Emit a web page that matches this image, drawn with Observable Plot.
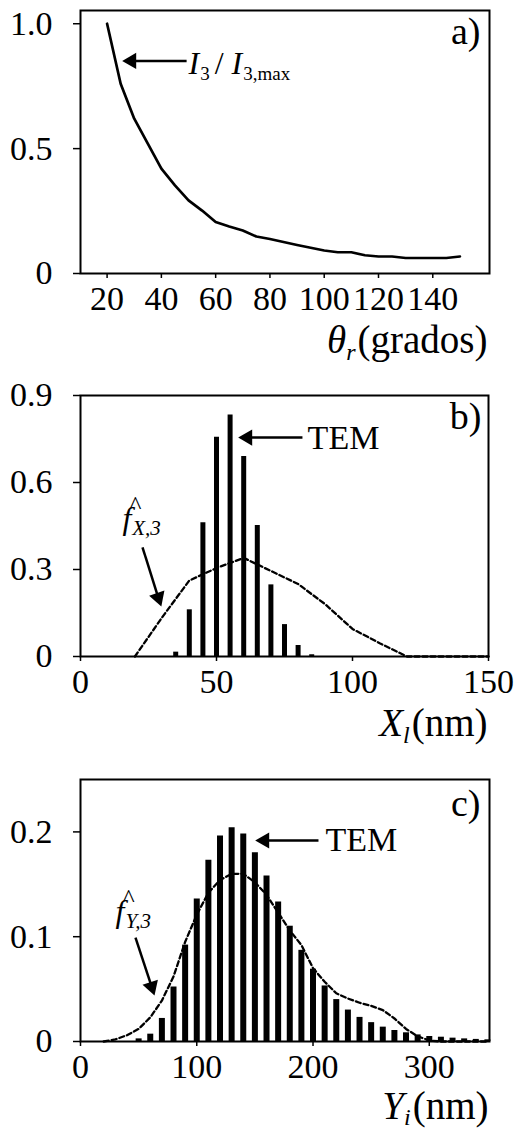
<!DOCTYPE html>
<html>
<head>
<meta charset="utf-8">
<script src="https://cdn.jsdelivr.net/npm/d3@7"></script>
<script src="https://cdn.jsdelivr.net/npm/@observablehq/plot@0.6"></script>
<style>
  html, body { margin: 0; padding: 0; background: white; overflow: hidden; }
  #chart svg { display: block; }
  #chart svg text, #chart svg tspan { font-family: "Liberation Serif", "Times New Roman", serif !important; }
</style>
</head>
<body>
<div id="chart"></div>
<script>
// ---------- Panel a data ----------
const thetaA = [20,25,30,35,40,45,50,55,60,65,70,75,80,85,90,95,100,105,110,115,120,125,130,135,140,145,150];
const intensityA = [1.0,0.76,0.62,0.52,0.42,0.353,0.293,0.252,0.206,0.188,0.172,0.148,0.138,0.126,0.114,0.103,0.092,0.085,0.085,0.073,0.068,0.068,0.062,0.062,0.062,0.062,0.068];
const xTicksA = [20,40,60,80,100,120,140];
const yTicksA = [0,0.5,1.0];

// ---------- Panel b data ----------
const binsX = [35,40,45,50,55,60,65,70,75,80,85];
const temX = [0.015,0.161,0.461,0.756,0.833,0.690,0.452,0.247,0.110,0.038,0.006];
const kdeXx = [20,30,40,50,60,70,80,90,100,110,120,130,140,150];
const kdeXy = [0,0.135,0.262,0.305,0.340,0.295,0.250,0.180,0.095,0.046,0,0,0,0];
const xTicksB = [0,50,100,150];
const yTicksB = [0,0.3,0.6,0.9];

// ---------- Panel c data ----------
const binsY = [50,60,70,80,90,100,110,120,130,140,150,160,170,180,190,200,210,220,230,240,250,260,270,280,290,300,310,320,330,340,350];
const temY = [0.0025,0.007,0.022,0.052,0.092,0.136,0.173,0.196,0.204,0.198,0.180,0.158,0.133,0.110,0.087,0.069,0.053,0.040,0.030,0.023,0.018,0.0137,0.0105,0.0083,0.0063,0.0048,0.0041,0.0032,0.0025,0.002,0.0016];
const kdeYx = [20,30,40,50,60,70,80,90,100,110,120,130,140,150,160,170,180,190,200,210,220,230,240,250,260,270,280,290,300,310,320,330,340,350];
const kdeYy = [0,0.002,0.006,0.012,0.023,0.039,0.062,0.095,0.121,0.142,0.154,0.160,0.160,0.152,0.140,0.123,0.106,0.092,0.070,0.057,0.046,0.041,0.037,0.034,0.030,0.022,0.012,0.005,0.001,0,0,0,0,0];
const xTicksC = [0,100,200,300];
const yTicksC = [0,0.1,0.2];

// ---------- annotation anchors (data coordinates) ----------
const annA = {tail: [49.3, 0.851], head: [29.0, 0.851], text: [50.0, 0.80]};
const annB = {temTail: [81.6, 0.755], temHead: [61.4, 0.755], temText: [83.5, 0.717],
              fText: [15.4, 0.441], fTail: [22.8, 0.376], fHead: [28.6, 0.203]};
const annC = {temTail: [204.7, 0.1918], temHead: [158.3, 0.1918], temText: [210.7, 0.182],
              fText: [30.1, 0.1145], fTail: [47.3, 0.0992], fHead: [61.2, 0.0524]};

const SERIF = "Liberation Serif";
const fmt1 = d => d === 0 ? "0" : d.toFixed(1);

function axes(xt, yt, yfmt) {
  return [
    Plot.frame({stroke: "black", strokeWidth: 2}),
    Plot.axisX(xt, {tickSize: 5, tickPadding: 7, fontSize: 34, fontFamily: SERIF, strokeWidth: 1.5, label: null, tickFormat: d => String(d)}),
    Plot.axisY(yt, {tickSize: 7, tickPadding: 21, fontSize: 34, fontFamily: SERIF, strokeWidth: 1.5, label: null, tickFormat: yfmt})
  ];
}
function arrow(tail, head, rot) {
  return [
    Plot.link([0], {x1: () => tail[0], y1: () => tail[1], x2: () => head[0], y2: () => head[1], stroke: "black", strokeWidth: 2.5}),
    Plot.dot([0], {x: () => head[0], y: () => head[1], symbol: "triangle", r: 6, fill: "black", stroke: "none", rotate: rot})
  ];
}
function label(txt, anchor, dx, dy, size, align) {
  return Plot.text([txt], {text: d => d, frameAnchor: anchor, dx, dy, textAnchor: align, lineAnchor: "bottom", fontSize: size, fontFamily: SERIF, fill: "black"});
}
function textAt(txt, pos, size, opts = {}) {
  return Plot.text([txt], {text: d => d, x: () => pos[0], y: () => pos[1], textAnchor: "start", lineAnchor: "bottom", fontSize: size, fontFamily: SERIF, fill: "black", ...opts});
}
function hat(pos) {
  return Plot.text(["^"], {text: d => d, x: () => pos[0], y: () => pos[1], dx: 13, dy: -15, textAnchor: "middle", lineAnchor: "bottom", fontSize: 26, fontFamily: SERIF, fill: "black"});
}
const styleStr = `display:block;font-family:'Liberation Serif',serif;font-size:34px;color:black;background:white;overflow:visible;`;
const dashed = {stroke: "black", strokeWidth: 2.3, strokeDasharray: "5,3"};

// ---------- Panel a ----------
const tableA = thetaA.map((t, i) => ({t, v: intensityA[i]}));
const plotA = Plot.plot({
  width: 516, height: 370, marginTop: 10, marginBottom: 97, marginLeft: 80, marginRight: 27,
  style: styleStr,
  x: {domain: [10.2, 160.9]},
  y: {domain: [0, 1.053]},
  marks: [
    ...axes(xTicksA, yTicksA, fmt1),
    Plot.line(tableA, {x: "t", y: "v", stroke: "black", strokeWidth: 2.7, strokeLinejoin: "round"}),
    ...arrow(annA.tail, annA.head, -90),
    textAt("I3 / I3,max", annA.text, 32),
    label("a)", "top-right", -9, 33, 38, "end"),
    label("θr(grados)", "bottom-right", -2, 79, 39, "end")
  ]
});

// ---------- Panel b ----------
const barsB = binsX.map((x, i) => ({x, v: temX[i]}));
const kdeB = kdeXx.map((x, i) => ({x, v: kdeXy[i]}));
const plotB = Plot.plot({
  width: 516, height: 390, marginTop: 25, marginBottom: 104, marginLeft: 80, marginRight: 28,
  style: styleStr,
  x: {domain: [0, 150]},
  y: {domain: [0, 0.9]},
  marks: [
    ...axes(xTicksB, yTicksB, fmt1),
    Plot.ruleX(barsB, {x: "x", y1: () => 0, y2: "v", stroke: "black", strokeWidth: 5}),
    Plot.line(kdeB, {x: "x", y: "v", ...dashed}),
    ...arrow(annB.temTail, annB.temHead, -90),
    textAt("TEM", annB.temText, 34),
    textAt("fX,3", annB.fText, 32),
    hat(annB.fText),
    ...arrow(annB.fTail, annB.fHead, 161),
    label("b)", "top-right", -7, 33, 38, "end"),
    label("Xl(nm)", "bottom-right", -1, 79, 39, "end")
  ]
});

// ---------- Panel c ----------
const barsC = binsY.map((x, i) => ({x, v: temY[i]}));
const kdeC = kdeYx.map((x, i) => ({x, v: kdeYy[i]}));
const plotC = Plot.plot({
  width: 516, height: 369, marginTop: 19, marginBottom: 88, marginLeft: 80, marginRight: 27,
  style: styleStr,
  x: {domain: [0, 351.8]},
  y: {domain: [0, 0.25]},
  marks: [
    ...axes(xTicksC, yTicksC, fmt1),
    Plot.ruleX(barsC, {x: "x", y1: () => 0, y2: "v", stroke: "black", strokeWidth: 6}),
    Plot.line(kdeC, {x: "x", y: "v", ...dashed}),
    ...arrow(annC.temTail, annC.temHead, -90),
    textAt("TEM", annC.temText, 34),
    textAt("fY,3", annC.fText, 32),
    hat(annC.fText),
    ...arrow(annC.fTail, annC.fHead, 162),
    label("c)", "top-right", -9, 36, 38, "end"),
    label("Yi(nm)", "bottom-right", -1, 77, 39, "end")
  ]
});

// ---------- rich text (italics / subscripts) ----------
function rich(svg, plain, parts) {
  svg.querySelectorAll("text").forEach(t => {
    if (t.textContent !== plain) return;
    while (t.firstChild) t.removeChild(t.firstChild);
    let shift = 0;
    for (const p of parts) {
      const ts = document.createElementNS("http://www.w3.org/2000/svg", "tspan");
      ts.textContent = p.t;
      ts.setAttribute("font-style", p.italic ? "italic" : "normal");
      if (p.size) ts.setAttribute("font-size", p.size);
      if (p.dx) ts.setAttribute("dx", p.dx);
      const target = p.sub || 0;
      if (target !== shift) { ts.setAttribute("dy", target - shift); shift = target; }
      t.appendChild(ts);
    }
  });
}
rich(plotA, "I3 / I3,max", [
  {t: "I", italic: true}, {t: "3", size: 19, sub: 6, dx: 1},
  {t: "/", sub: 0, dx: 5}, {t: "I", italic: true, dx: 8}, {t: "3,max", size: 19, sub: 6, dx: 1}
]);
rich(plotA, "θr(grados)", [
  {t: "θ", italic: true}, {t: "r", italic: true, size: 24, sub: 7}, {t: "(grados)", sub: 0, dx: 2}
]);
rich(plotB, "fX,3", [{t: "f", italic: true}, {t: "X,3", italic: true, size: 21, sub: 6, dx: 1}]);
rich(plotB, "Xl(nm)", [{t: "X", italic: true}, {t: "l", italic: true, size: 24, sub: 7}, {t: "(nm)", sub: 0, dx: 2}]);
rich(plotC, "fY,3", [{t: "f", italic: true}, {t: "Y,3", italic: true, size: 21, sub: 6, dx: 1}]);
rich(plotC, "Yi(nm)", [{t: "Y", italic: true}, {t: "i", italic: true, size: 24, sub: 6}, {t: "(nm)", sub: 0, dx: 2}]);

const chart = document.getElementById("chart");
chart.appendChild(plotA);
chart.appendChild(plotB);
chart.appendChild(plotC);
</script>
</body>
</html>
